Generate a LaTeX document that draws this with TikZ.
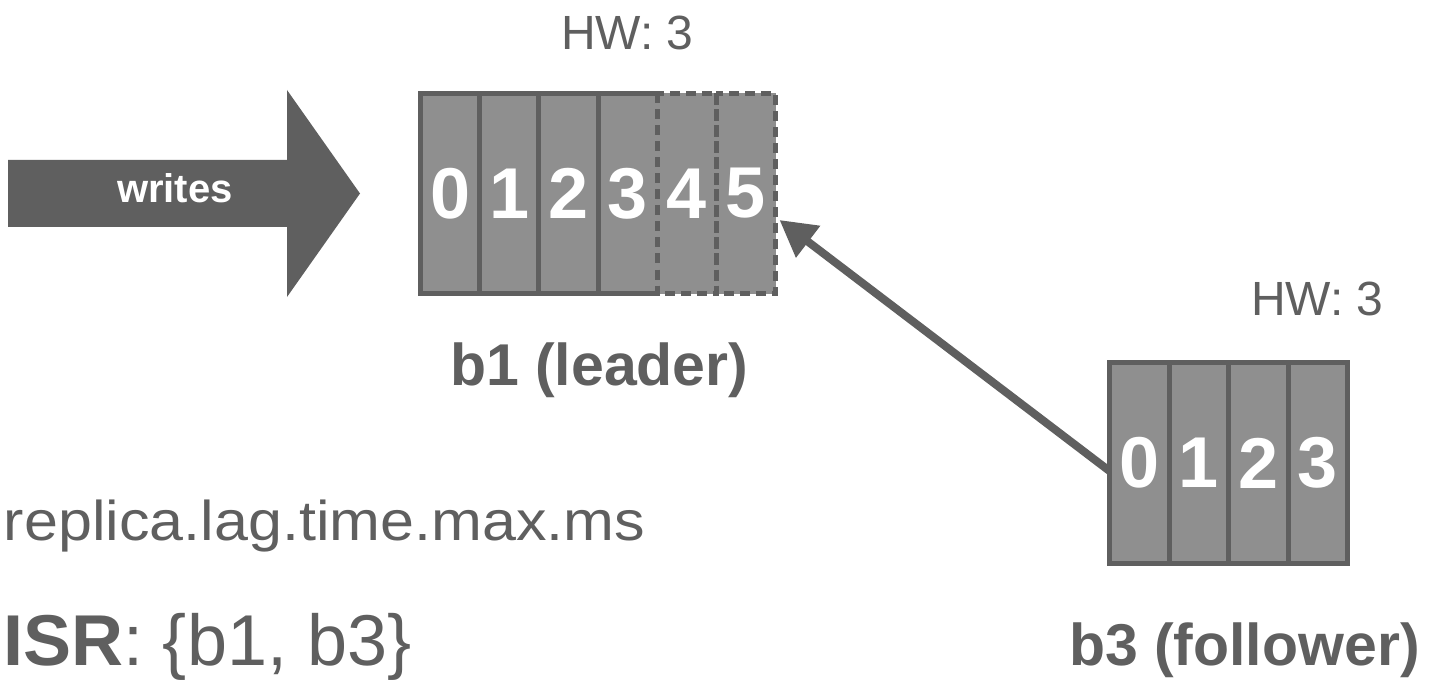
\documentclass[tikz,border=0pt]{standalone}
\usepackage{fontspec}
\setmainfont{Liberation Sans}
\newfontfamily\widesans[FakeStretch=1.09]{Liberation Sans}
\usetikzlibrary{arrows.meta,calc}
\definecolor{dk}{RGB}{95,95,95}
\definecolor{cellgray}{RGB}{143,143,143}
\begin{document}
\begin{tikzpicture}[x=1pt,y=-1pt,
  lcell/.style={fill=cellgray, inner sep=0pt, outer sep=0pt, minimum width=59.1667pt, minimum height=200pt, text=white, font=\bfseries\fontsize{72pt}{72pt}\selectfont},
  fcell/.style={fill=cellgray, inner sep=0pt, outer sep=0pt, minimum width=59.5pt, minimum height=201pt, text=white, font=\bfseries\fontsize{72pt}{72pt}\selectfont},
  border/.style={draw=dk, line width=5pt, line cap=rect},
  dashborder/.style={draw=dk, line width=5pt, dash pattern=on 10pt off 6pt},
  lbl/.style={text=dk, inner sep=0pt, outer sep=0pt, anchor=base west}]
\useasboundingbox (0,0) rectangle (1430,687);

% writes arrow
\fill[dk] (8,160) -- (287,160) -- (287,90) -- (360,193.5) -- (287,297) -- (287,227) -- (8,227) -- cycle;
\node[text=white, inner sep=0pt, anchor=base, font=\bfseries\fontsize{40pt}{40pt}\selectfont] (writes) at (175,203) {writes};

% leader cells
\foreach \i in {0,...,5}
  \node[lcell] (l\i) at ({420.5+59.1667*(\i+0.5)},193.5) {\i};
\draw[border] (l3.north east) -- (l0.north west) -- (l0.south west) -- (l3.south east);
\foreach \i in {0,1,2}
  \draw[border, line cap=butt] (l\i.north east) -- (l\i.south east);
\draw[dashborder] (l4.north west) rectangle (l4.south east);
\draw[dashborder] (l5.north west) rectangle (l5.south east);

% follower cells
\foreach \i in {0,...,3}
  \node[fcell] (f\i) at ({1109.5+59.5*(\i+0.5)},463) {\i};
\draw[border] (f0.north west) rectangle (f3.south east);
\foreach \i in {0,1,2}
  \draw[border, line cap=butt] (f\i.north east) -- (f\i.south east);

% replication arrow
\coordinate (astart) at ([yshift=-8pt]f0.west);
\coordinate (aend) at ([xshift=4pt,yshift=-26.5pt]l5.east);
\draw[dk, line width=8pt, -{Triangle[length=36pt,width=38pt]}] (astart) -- (aend);

% labels
\node[lbl, font=\fontsize{48pt}{48pt}\selectfont] (hw1) at (561,50) {HW: 3};
\node[lbl, font=\fontsize{48pt}{48pt}\selectfont] (hw3) at (1251,315) {HW: 3};
\node[lbl, font=\bfseries\fontsize{59pt}{59pt}\selectfont] (b1lbl) at (450,385) {b1 (leader)};
\node[lbl, font=\bfseries\fontsize{59pt}{59pt}\selectfont] (b3lbl) at (1069,665) {b3 (follower)};
\node[lbl, font=\widesans\fontsize{56pt}{56pt}\selectfont] (lag) at (4,540) {replica.lag.time.max.ms};
\node[lbl, font=\fontsize{72pt}{72pt}\selectfont] (isr) at (3,665) {\textbf{ISR}: \{b1, b3\}};
\end{tikzpicture}
\end{document}
